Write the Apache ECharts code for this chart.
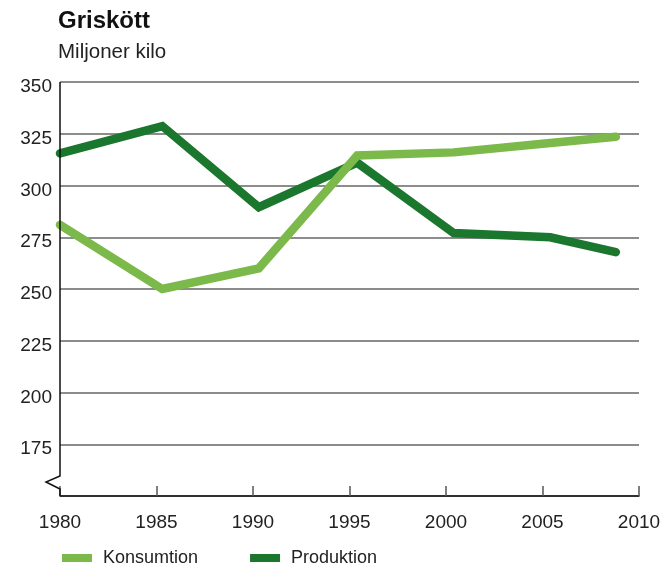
<!DOCTYPE html>
<html><head><meta charset="utf-8">
<script src="https://cdn.jsdelivr.net/npm/echarts@6/dist/echarts.min.js"></script>
<style>html,body{margin:0;padding:0;background:#fff}#c{width:669px;height:567px}</style>
</head><body><div id="c"></div>
<script>
const title = 'Griskött';
const subtitle = 'Miljoner kilo';
const years = [1980, 1985.3, 1990.3, 1995.4, 2000.4, 2005.4, 2008.8];
const konsumtion = [281, 250, 260, 314.5, 316, 320.5, 323.5];
const produktion = [315.5, 328.7, 289.5, 311, 277, 275, 267.8];
const yTicks = [175, 200, 225, 250, 275, 300, 325, 350];
const xTicks = [1980, 1985, 1990, 1995, 2000, 2005, 2010];

const font = '"Liberation Sans", Arial, sans-serif';
const chart = echarts.init(document.getElementById('c'));
const opt = {
  animation: false,
  title: [
    {text: title, left: 53, top: 4, textStyle: {fontFamily: font, fontSize: 24, fontWeight: 'bold', color: '#111'}},
    {text: subtitle, left: 53, top: 37, textStyle: {fontFamily: font, fontSize: 20.5, fontWeight: 'normal', color: '#222'}}
  ],
  grid: {left: 60, right: 30, top: 82, bottom: 71},
  legend: {
    left: 57, top: 544, icon: 'rect', itemWidth: 30, itemHeight: 8, itemGap: 52,
    textStyle: {fontFamily: font, fontSize: 18, color: '#222', padding: [0,0,0,6]},
    data: ['Konsumtion', 'Produktion']
  },
  xAxis: {
    type: 'value', min: 1980, max: 2010, interval: 5,
    axisLine: {lineStyle: {color: '#111', width: 1.5}},
    axisTick: {inside: true, length: 10, lineStyle: {color: '#555', width: 1.5}},
    axisLabel: {fontFamily: font, fontSize: 19, color: '#222', margin: 17,
      formatter: v => xTicks.includes(v) ? String(v) : ''},
    splitLine: {show: false}
  },
  yAxis: {
    type: 'value', min: 150, max: 350, interval: 25,
    axisLine: {show: false},
    axisTick: {show: false},
    axisLabel: {color: '#222', margin: 8,
      formatter: v => yTicks.includes(v) ? '{a|' + v + '}' : '',
      rich: {a: {fontFamily: font, fontSize: 19, color: '#222', padding: [10,0,0,0]}}},
    splitLine: {lineStyle: {color: '#666', width: 1.5}}
  },
  series: [
    {name: 'Produktion', type: 'line', data: years.map((y,i)=>[y, produktion[i]]),
      showSymbol: false, color: '#1b772e', z: 2,
      lineStyle: {width: 8.5, cap: 'round', join: 'miter'}},
    {name: 'Konsumtion', type: 'line', data: years.map((y,i)=>[y, konsumtion[i]]),
      showSymbol: false, color: '#7bb94a', z: 3,
      lineStyle: {width: 8.5, cap: 'round', join: 'miter'}}
  ]
};
chart.setOption(opt);
// y axis line with break marker
const pTop = chart.convertToPixel({gridIndex: 0}, [1980, 350]);
const pBot = chart.convertToPixel({gridIndex: 0}, [1980, 150]);
const x0 = pTop[0];
chart.setOption({graphic: [{
  type: 'polyline', z: 100,
  shape: {points: [[x0, pTop[1]], [x0, pBot[1]-20], [x0-14, pBot[1]-14], [x0, pBot[1]-7], [x0, pBot[1]]]},
  style: {stroke: '#111', lineWidth: 1.5, fill: null}
}]});
</script></body></html>
